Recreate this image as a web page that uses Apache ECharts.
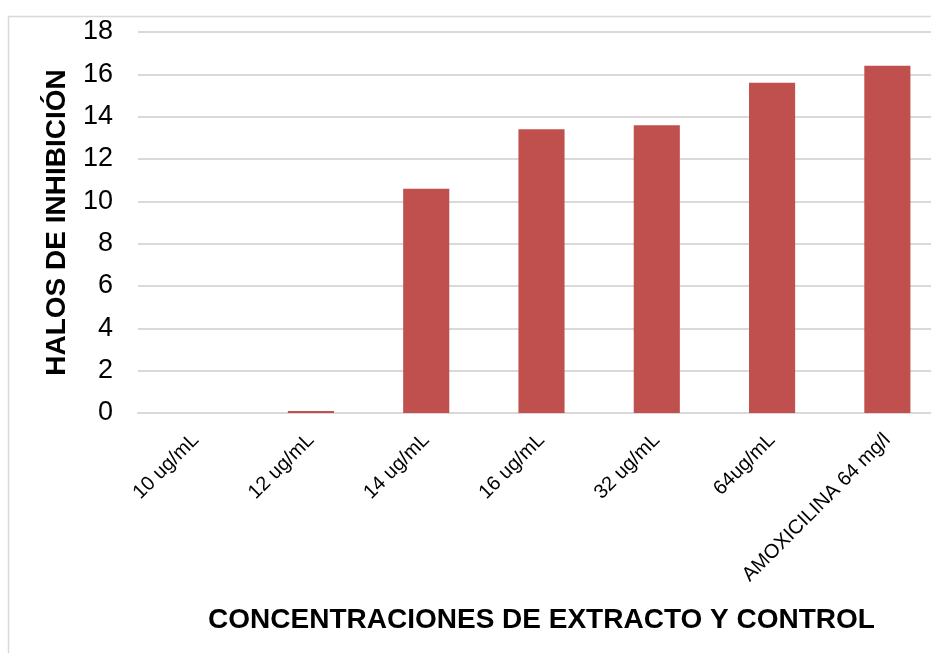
<!DOCTYPE html>
<html>
<head>
<meta charset="utf-8">
<script src="https://cdn.jsdelivr.net/npm/echarts@6/dist/echarts.min.js"></script>
<style>
  html, body { margin: 0; padding: 0; background: #fff; }
  #chart { width: 931px; height: 653px; }
</style>
</head>
<body>
<div id="chart"></div>
<script>
// Inhibition halo sizes per extract concentration and the antibiotic control
const categories = ['10 ug/mL', '12 ug/mL', '14 ug/mL', '16 ug/mL', '32 ug/mL', '64ug/mL', 'AMOXICILINA 64 mg/l'];
const halos = [0, 0.1, 10.6, 13.4, 13.6, 15.6, 16.4];
const yTicks = { min: 0, max: 18, step: 2 };

const font = "'Liberation Sans', Arial, sans-serif";
const chart = echarts.init(document.getElementById('chart'));

chart.setOption({
  animation: false,
  backgroundColor: '#ffffff',
  textStyle: { fontFamily: font },
  graphic: [{
    type: 'rect',
    silent: true,
    z: -1,
    shape: { x: 8.5, y: 16.5, width: 1000, height: 1000 },
    style: { fill: 'none', stroke: '#d9d9d9', lineWidth: 1.5 }
  }],
  // plot area runs past the right edge of the canvas
  grid: { left: 138, width: 807, top: 32, height: 381, containLabel: false, outerBoundsMode: 'none' },
  xAxis: {
    type: 'category',
    data: categories,
    name: 'CONCENTRACIONES DE EXTRACTO Y CONTROL',
    nameLocation: 'middle',
    nameGap: 193,
    nameTextStyle: { fontFamily: font, fontSize: 28, fontWeight: 'bold', color: '#000' },
    axisLine: { show: true, lineStyle: { color: '#d9d9d9', width: 2 } },
    axisTick: { show: false },
    axisLabel: { rotate: 45, interval: 0, margin: 24, fontFamily: font, fontSize: 20, color: '#000' }
  },
  yAxis: {
    type: 'value',
    min: yTicks.min,
    max: yTicks.max,
    interval: yTicks.step,
    name: 'HALOS DE INHIBICIÓN',
    nameLocation: 'middle',
    nameGap: 67,
    nameTextStyle: { fontFamily: font, fontSize: 28, fontWeight: 'bold', color: '#000' },
    axisLine: { show: false },
    axisTick: { show: false },
    axisLabel: { margin: 25, fontFamily: font, fontSize: 27, color: '#000' },
    splitLine: { lineStyle: { color: '#d9d9d9', width: 2 } }
  },
  series: [{
    type: 'bar',
    data: halos,
    barCategoryGap: '60%',
    itemStyle: { color: '#C0504D' }
  }]
});
</script>
</body>
</html>
